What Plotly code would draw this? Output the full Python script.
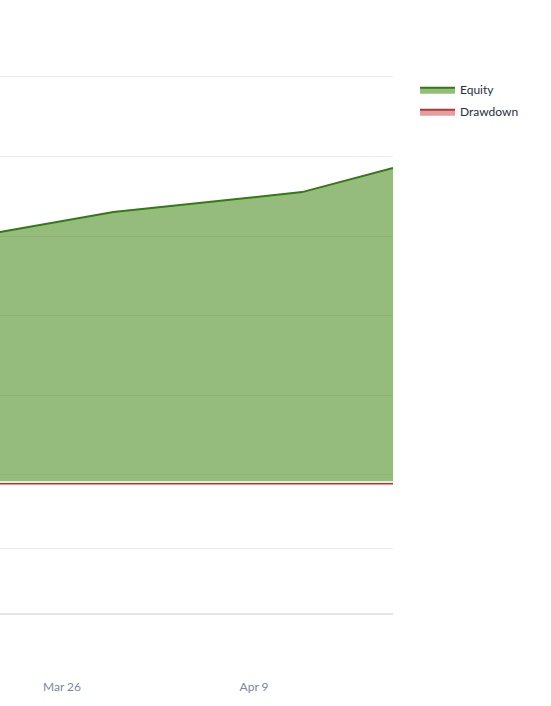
import plotly.graph_objects as go

# ---- data ----
dates = ["2024-03-21 11:30", "2024-03-29 18:00", "2024-04-12 12:00", "2024-04-19 03:00"]
equity = [13050, 13302, 13553, 13855]
drawdown = [0, 0, 0, 0]

x_range = ["2024-03-21 11:30", "2024-04-19 03:00"]
eq_ticks = [10000, 11000, 12000, 13000, 14000, 15000]
eq_range = [9918, 15465]
dd_ticks = [-5]
dd_range = [-10, 0.05]

fig = go.Figure()
fig.add_trace(go.Scatter(
    x=dates, y=equity, name="Equity", mode="lines",
    line=dict(color="#2f7d0a", width=2),
    fill="tozeroy", fillcolor="rgba(56,128,10,0.53)",
    xaxis="x", yaxis="y", legendgroup="eq",
))
fig.add_trace(go.Scatter(
    x=dates, y=drawdown, name="Drawdown", mode="lines",
    line=dict(color="#b4343a", width=2),
    fill="tozeroy", fillcolor="rgba(200,80,85,0.55)",
    xaxis="x2", yaxis="y2", legendgroup="dd",
))

W, H = 551, 706
mt, mb = 40, 93
plot_h = H - mt - mb
dom_split_top = (612.7 - 481) / plot_h
dom_split_bot = (612.7 - 482.5) / plot_h

fig.update_layout(
    width=W, height=H,
    margin=dict(l=0, r=158, t=mt, b=mb),
    paper_bgcolor="white", plot_bgcolor="white",
    font=dict(family="Lato, 'Open Sans', sans-serif", size=12, color="#2a2f3a"),
    showlegend=True,
    legend=dict(x=1.056, xanchor="left", y=(612.7 - 75) / plot_h, yanchor="top",
                yref="paper", font=dict(size=12, color="#2a2f3a"),
                bgcolor="rgba(0,0,0,0)", tracegroupgap=3, itemwidth=35),
    xaxis=dict(domain=[0, 1], anchor="y", range=x_range, type="date",
               showgrid=False, showticklabels=False, showline=False, zeroline=False,
               matches="x2"),
    yaxis=dict(domain=[dom_split_top, 1], anchor="x", range=eq_range,
               tickvals=eq_ticks, showticklabels=False, showgrid=True,
               gridcolor="#ececec", gridwidth=1, zeroline=False, showline=False),
    xaxis2=dict(domain=[0, 1], anchor="y2", range=x_range, type="date",
                showgrid=False, showline=True, linecolor="#e1e5ea", linewidth=2,
                ticks="", tickformat="%b %-d", dtick=14 * 86400000,
                tick0="2024-03-26", ticklabelstandoff=62,
                tickfont=dict(size=12, color="#7d879c"), zeroline=False),
    yaxis2=dict(domain=[0, dom_split_bot], anchor="x2", range=dd_range,
                tickvals=dd_ticks, showticklabels=False, showgrid=True,
                gridcolor="#ececec", gridwidth=1, zeroline=False, showline=False),
)

fig.write_html("out.html", config={"displayModeBar": False},
               post_script="document.body.style.margin='0';")
